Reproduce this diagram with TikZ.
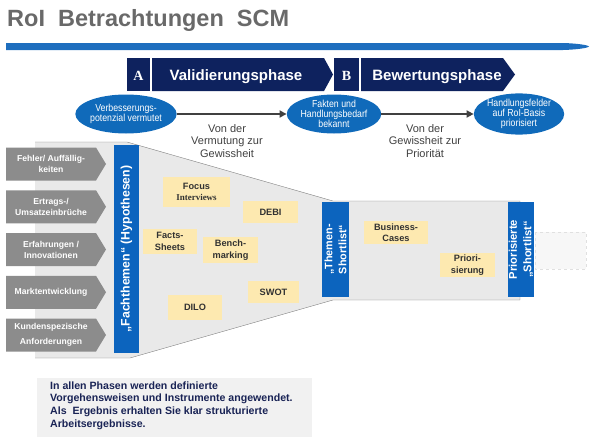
\documentclass[tikz,border=0pt]{standalone}
\usepackage{fontspec}
\setmainfont{Liberation Sans}
\newfontfamily\narrowfont[FakeStretch=0.86]{Liberation Sans}
\newfontfamily\serifface{Liberation Serif}
\usetikzlibrary{shapes.geometric,arrows.meta}
\definecolor{navy}{RGB}{14,34,94}
\definecolor{barblue}{RGB}{30,110,190}
\definecolor{listblue}{RGB}{12,100,190}
\definecolor{ellblue}{RGB}{16,106,186}
\definecolor{funnelgray}{RGB}{233,233,233}
\definecolor{funnelline}{RGB}{128,128,128}
\definecolor{srcgray}{RGB}{140,140,140}
\definecolor{toolyellow}{RGB}{253,233,176}
\definecolor{tooltext}{RGB}{50,50,50}
\definecolor{notebox}{RGB}{241,241,241}
\definecolor{titlegray}{RGB}{105,105,105}
\definecolor{textgray}{RGB}{64,64,64}
\definecolor{navytext}{RGB}{25,35,85}
\begin{document}
\begin{tikzpicture}[x=1pt,y=-1pt,
    phasetext/.style={text=white,inner sep=0pt,anchor=base,font=\fontsize{15}{18}\selectfont\bfseries},
    letter/.style={text=white,inner sep=0pt,anchor=base,font=\serifface\fontsize{14}{16}\selectfont\bfseries},
    state/.style={ellipse,fill=ellblue,text=white,minimum width=84pt,minimum height=39pt,inner sep=0pt,align=center,font=\narrowfont\fontsize{10.2}{9.8}\selectfont},
    conn/.style={draw=textgray,line width=1.8pt,-{Triangle[length=7pt,width=7pt]}},
    note/.style={text=textgray,align=center,inner sep=0pt,anchor=north,font=\fontsize{11}{12.5}\selectfont},
    source/.style={text=white,align=center,inner sep=0pt,font=\fontsize{8.6}{11}\selectfont\bfseries},
    listbar/.style={fill=listblue,text=white,align=center,inner sep=0pt,rotate=90},
    tool/.style={fill=toolyellow,text=tooltext,align=center,inner sep=0pt,font=\fontsize{9.2}{11.5}\selectfont\bfseries}]
  \useasboundingbox (0,0) rectangle (600,447);

  \node[anchor=base west,inner sep=0pt,text=titlegray,font=\fontsize{23.5}{24}\selectfont\bfseries] (title) at (7,26.5) {RoI\ \ Betrachtungen\ \ SCM};
  \fill[barblue] (6,43) -- (563,43) .. controls (580,43.5) and (589,45.5) .. (589,46.5) .. controls (589,47.5) and (580,49.5) .. (563,50) -- (6,50) -- cycle;

  \fill[navy] (127,58) rectangle (150,91);
  \fill[navy] (152,58) -- (324,58) -- (333,74.5) -- (324,91) -- (152,91) -- cycle;
  \fill[navy] (334,58) rectangle (359,91);
  \fill[navy] (361,58) -- (503,58) -- (515,74.5) -- (503,91) -- (361,91) -- cycle;
  \node[letter] (pa) at (138.5,80.5) {A};
  \node[phasetext] (phaseA) at (236,80.5) {Validierungsphase};
  \node[letter] (pb) at (346.5,80.5) {B};
  \node[phasetext] (phaseB) at (437,80.5) {Bewertungsphase};

  \node[state] (st1) at (126,114) {Verbesserungs-\\potenzial vermutet};
  \node[state] (st2) at (334,114) {Fakten und\\Handlungsbedarf\\bekannt};
  \node[state,minimum width=82pt] (st3) at (519,114) {Handlungsfelder\\auf RoI-Basis\\priorisiert};
  \draw[conn] (st1.east) -- (st2.west);
  \draw[conn] (st2.east) -- (st3.west);
  \node[note] (n1) at (227,124) {Von der\\Vermutung zur\\Gewissheit};
  \node[note] (n2) at (425,124) {Von der\\Gewissheit zur\\Priorität};

  \fill[funnelgray] (35,142) -- (127,142) -- (333,201) -- (520,201) -- (520,300) -- (333,300) -- (130,358) -- (35,358) -- cycle;
  \draw[funnelline] (35,142) -- (127,142) -- (333,201) -- (520,201) -- (520,300) -- (333,300) -- (130,358) -- (35,358);
  \draw[dashed,draw=black!12,fill=black!3] (535,232) rectangle (586,269);

  \foreach \i in {0,...,4}{
    \pgfmathsetmacro\yy{164+42.75*\i}
    \fill[srcgray] (6,\yy-16.5) -- (96,\yy-16.5) -- (106,\yy) -- (96,\yy+16.5) -- (6,\yy+16.5) -- cycle;
  }
  \node[source] (src1) at (51,164) {Fehler/ Auffällig-\\keiten};
  \node[source] (src2) at (51,206.75) {Ertrags-/\\Umsatzeinbrüche};
  \node[source] (src3) at (51,249.5) {Erfahrungen /\\Innovationen};
  \node[source] (src4) at (51,292.25) {Marktentwicklung};
  \node[source,font=\fontsize{8.6}{15}\selectfont\bfseries] (src5) at (51,335) {Kundenspezische\\Anforderungen};

  \node[listbar,minimum width=208pt,minimum height=25pt,font=\fontsize{12.3}{13}\selectfont\bfseries] (hyp) at (126.5,249) {„Fachthemen“ (Hypothesen)};
  \node[listbar,minimum width=95pt,minimum height=27pt,font=\fontsize{10.8}{14}\selectfont\bfseries] (short) at (335.5,249.5) {„Themen-\\Shortlist“};
  \node[listbar,minimum width=95pt,minimum height=26pt,font=\fontsize{11.2}{14.5}\selectfont\bfseries] (prio) at (521,249.5) {Priorisierte\\„Shortlist“};

  \node[tool,minimum width=67pt,minimum height=30pt] (focus) at (196.5,192) {Focus\\{\serifface\fontsize{9}{11.5}\selectfont\bfseries Interviews}};
  \node[tool,minimum width=55pt,minimum height=22pt] (debi) at (270.5,212) {DEBI};
  \node[tool,minimum width=54pt,minimum height=25pt] (facts) at (170,241.5) {Facts-\\Sheets};
  \node[tool,minimum width=55pt,minimum height=26pt] (bench) at (230.5,250) {Bench-\\marking};
  \node[tool,minimum width=51pt,minimum height=22pt] (swot) at (273.5,292) {SWOT};
  \node[tool,minimum width=54pt,minimum height=25pt] (dilo) at (195,307.5) {DILO};
  \node[tool,minimum width=64pt,minimum height=23pt] (bcase) at (396,232.5) {Business-\\Cases};
  \node[tool,minimum width=55pt,minimum height=24pt] (prior) at (467.5,265) {Priori-\\sierung};

  \fill[notebox] (37,378) rectangle (312,437);
  \node[anchor=north west,inner sep=0pt,align=left,text=navytext,font=\fontsize{10.6}{12.6}\selectfont\bfseries] (summary) at (50,381.5) {In allen Phasen werden definierte\\Vorgehensweisen und Instrumente angewendet.\\Als\ \ Ergebnis erhalten Sie klar strukturierte\\Arbeitsergebnisse.};
\end{tikzpicture}
\end{document}
